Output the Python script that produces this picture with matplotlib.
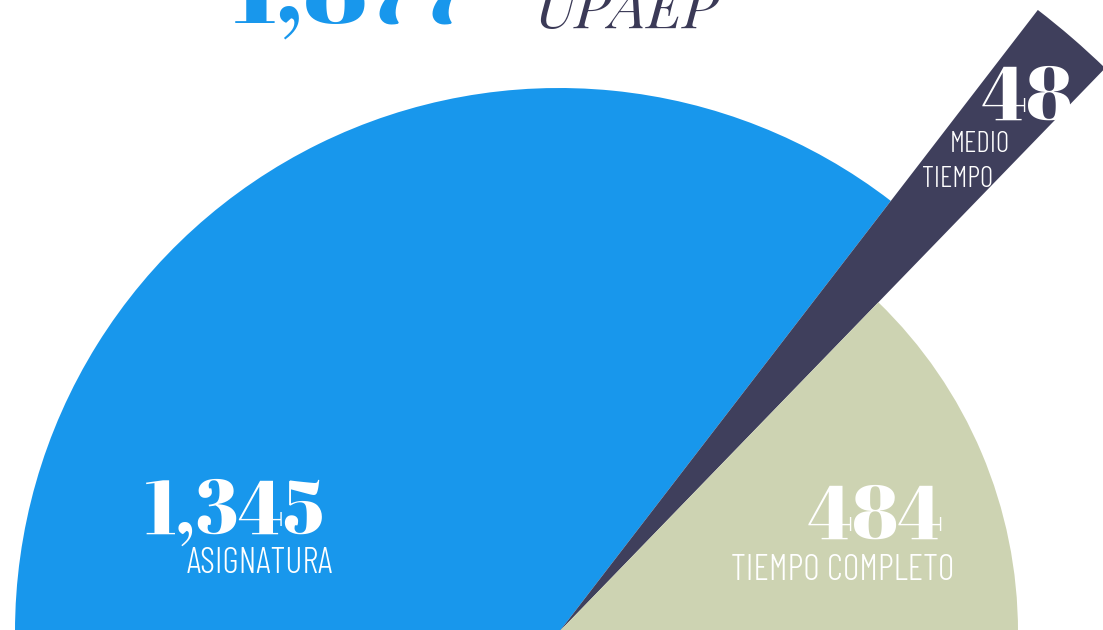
import matplotlib
matplotlib.use('Agg')
import matplotlib.pyplot as plt
from matplotlib.patches import Wedge

# data
labels = ['ASIGNATURA', 'MEDIO\nTIEMPO', 'TIEMPO COMPLETO']
values = [1345, 48, 484]
total_label = '1,877'
title_word = 'UPAEP'

# style
colors = ['#1897ec', '#3f3f5c', '#cdd3b2']
radii = [544, 785, 459]
min_span = 6.5     # smallest slice angle, degrees
navy = '#3b3a57'
W, H = 1103, 630
cx, cy = 559, -2   # centre of the half pie (y up, pixels)

fig = plt.figure(figsize=(W / 100, H / 100), dpi=100)
ax = fig.add_axes([0, 0, 1, 1])
ax.set_xlim(0, W)
ax.set_ylim(0, H)
ax.set_aspect('equal')
ax.axis('off')

# slice angles: tiny slices get a minimum width, the rest share what is left
small = [v / sum(values) * 180 < min_span for v in values]
big_total = sum(v for v, s in zip(values, small) if not s)
left = 180 - min_span * sum(small)
spans = [min_span if s else v / big_total * left for v, s in zip(values, small)]

start = 180.0
for span, r, c in zip(spans, radii, colors):
    ax.add_patch(Wedge((cx, cy), r, start - span, start, facecolor=c, edgecolor='none'))
    start -= span

num_font = ['Abril Fatface', 'DM Serif Display', 'DejaVu Serif']
ttl_font = ['Playfair Display', 'DejaVu Serif']
lab_font = ['Barlow Condensed', 'DejaVu Sans']

def py(y):
    return H - y

# title
ax.text(232, py(23), total_label, color=colors[0], fontsize=75,
        family=num_font, ha='left', va='baseline')
ax.text(535, py(28), title_word, color=navy, fontsize=42.5, style='italic',
        family=ttl_font, ha='left', va='baseline')

# value labels
ax.text(145, py(534), f'{values[0]:,}', color='white', fontsize=54,
        family=num_font, ha='left', va='baseline')
ax.text(187, py(573), labels[0], color='white', fontsize=26, fontweight=300,
        family=lab_font, ha='left', va='baseline')

ax.text(808, py(539), f'{values[2]:,}', color='white', fontsize=54,
        family=num_font, ha='left', va='baseline')
ax.text(731, py(580), labels[2], color='white', fontsize=26, fontweight=300,
        family=lab_font, ha='left', va='baseline')

ax.text(982, py(120), f'{values[1]:,}', color='white', fontsize=54,
        family=num_font, ha='left', va='baseline')
med, tie = labels[1].split('\n')
ax.text(950, py(152), med, color='white', fontsize=21, fontweight=300,
        family=lab_font, ha='left', va='baseline')
ax.text(922, py(187), tie, color='white', fontsize=21, fontweight=300,
        family=lab_font, ha='left', va='baseline')

fig.savefig('out.png', dpi=100)
